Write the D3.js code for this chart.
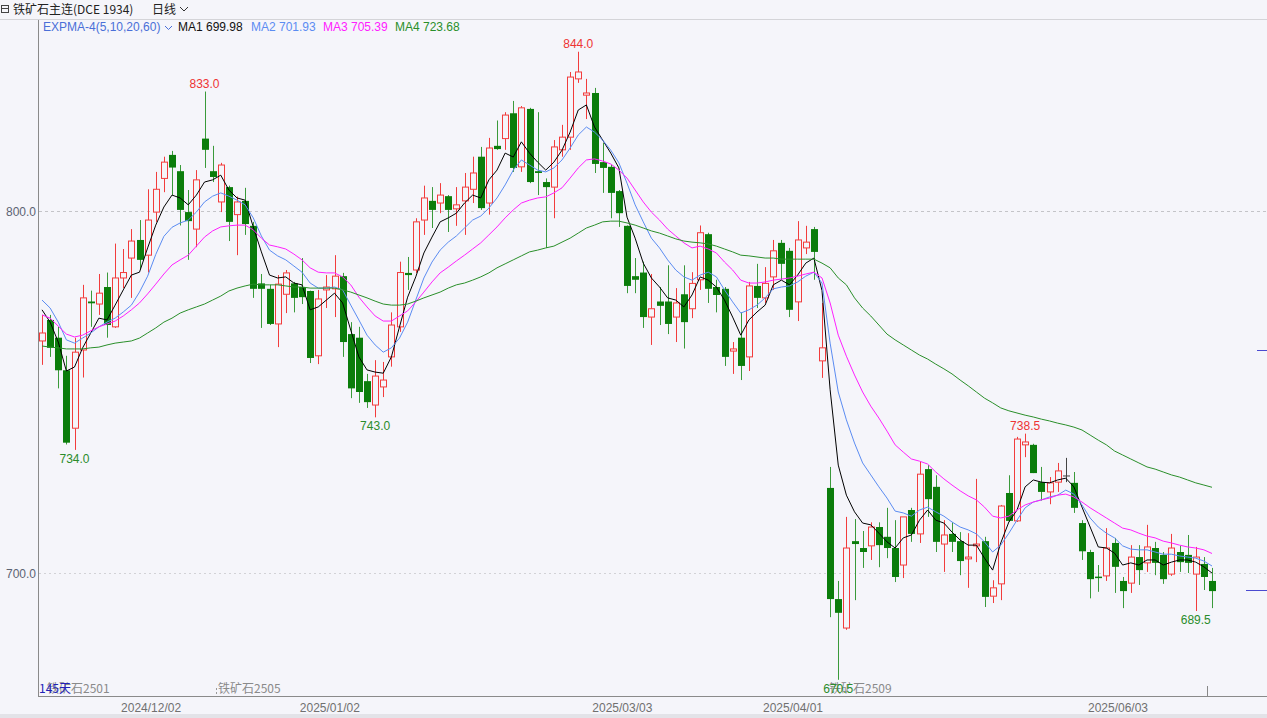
<!DOCTYPE html>
<html><head><meta charset="utf-8">
<script src="https://cdn.jsdelivr.net/npm/d3@7"></script>
<style>body{margin:0;background:#f5f5fa;} svg{display:block}</style>
</head><body><svg id="c" width="1267" height="718"></svg>
<script>
// ---- data ----
const opens = [764.1,769.9,765,756,740,761.6,775,774.3,779,768,
781.5,787,792,787.8,799.7,809,815.5,811,799.7,795,
820,811,802.5,806.6,799,802.8,795.9,780,778.5,768.8,
777,780,779,777.9,760,778.2,778.5,782,766,765,
753,746.4,751.4,759.7,768,782.9,783.7,797.5,802.8,802.2,
804.1,800.6,802.8,806,815,802.2,818,820,827,812.2,
828.2,811,808,806.6,816.9,820.4,836.5,832,832.6,813.5,
812.2,805.5,795.9,782,783,770.7,775,775,770.7,777,
773,781,793.6,779,778.5,761.3,765,759.7,779.3,776,
781.8,791.2,789,774.9,789.8,795,758.6,723.5,692.8,684.8,
708.8,706.9,707.5,712.7,710,706.9,702.2,717.4,710.8,728.7,
723.8,708,710.8,708.8,703.9,707.5,708.8,693.6,697,722.1,
714.4,735.4,735.4,725.1,722.4,725.1,726.8,724.9,713.8,705.8,
699,699.2,708.3,697.8,697.2,704.4,702.8,706.9,705,699.7,
705.8,705,699.7,702.5,697.8];
const highs = [771.3,771.3,768,760,765,779.6,778,782.6,783,791,
789.5,795,797.5,806,810.8,815,816.6,812.7,805.8,811.3,
833,818,813.3,807,804,806.4,797,782.6,779.6,782.3,
783.7,780.4,787,778,778.2,782.3,787.8,782.9,769.3,768,
755,758.8,758.3,772,786,787.3,798,807,806.6,807.7,
804.4,806.6,810.5,815,817.7,820.2,825,827.3,830.4,829,
828.5,827.3,809,819.6,823.8,838.4,844,836.5,834,818.8,
812.7,805.8,796,787,786,782.6,779,785,778.7,785,
783.1,796,794,781,779,763.8,772,780.4,785.4,784.5,
792,792,789.8,797.2,795.9,795.6,774.6,729.3,697.8,715.5,
714.9,711.6,714,714,718,714.6,715.5,718,730.7,729.8,
727,714.6,714,711.3,711,726,710,698,718.8,727,
737.6,738.5,735.7,729.3,726.5,730.4,731.8,727.9,714.6,706.4,
702.2,712.4,709.7,698.9,707.7,707.7,713.3,708.6,705.8,710.8,
707.5,710.5,707.2,704.4,701.4];
const lows = [757.5,759.7,751,735.5,734,754,768,771.3,765,767.7,
778.7,776,784,783,797,805.2,804.4,796,786.5,790,
811.9,808,799.7,791.7,787.8,793.4,776,767.7,768.5,762.4,
771.8,772,774.3,758,757.7,773.2,770.7,759.7,748.3,747,
745.6,743,748.6,757,766.6,778.2,782.9,793.4,795.3,799.4,
794.2,795.9,793.4,802.2,800.3,799,816.9,816.9,810.8,810.8,
807.7,804.4,789.8,798,815,816.9,835.4,825.4,810.5,805,
798,795.6,777.3,777.3,767.7,763,768.5,766,763.8,762,
770.4,778.2,774.6,772,757.2,755,753.3,755.8,773.2,774.6,
778.2,781,770.7,769.6,788.1,781,753.9,687.8,670.5,684.3,
692.5,701.4,703.6,701.6,704.1,697.5,698.6,708.6,708.3,715.5,
705.8,700.3,705.8,699.4,695.9,703,690.6,691.7,692.5,714.1,
714.1,732,727.6,720,719,722.4,725.1,716.6,703.6,693,
694.8,697.8,694.5,690.3,694.5,696.7,700.3,699.4,697,699.2,
700.3,700,689.5,695.3,690.3];
const closes = [766.3,762.2,756,736,761,776,774.5,777.3,768.5,781.5,
783,791.7,786.5,797.5,806,813.5,812,800.3,797.2,808.6,
816.9,809.4,812.7,797,802.5,796.4,778.5,778.5,768.8,779.8,
782.9,776,776.2,759.4,775.7,779,782,763.8,751,750,
747.2,754.4,753.3,768.5,783,782.3,797,803.6,800.3,804.4,
800.3,801.7,806.6,810.5,800.8,817.4,817.1,826.5,811.9,828.5,
808,810.5,806.6,817.7,820.4,837,838.4,832.6,813,811.9,
805,799.4,779.3,781,770.7,773,773.8,768.8,774.6,769.3,
780,794,778.5,776.8,759.7,761.9,757.2,779.3,776,780,
789,785.4,772.7,792,791.4,788.7,762.2,692.8,689,706.9,
708,705.8,712.7,707.7,706.9,698.9,715.5,710.8,727.3,720.4,
708.6,710.5,708.6,703.3,704.4,708,693.4,695.9,718.5,714.4,
737,736.2,727.6,722.4,724.9,728.2,726.8,718,706,698.3,
698.6,706.9,701.7,695,704.4,700.8,707.2,702.8,698.3,706.9,
703,702.8,704.4,698.9,695];
// EXPMA lines
const ma1 = [772.7,769.3,763.8,755.8,756.9,762.2,766.3,770.4,769.9,774.0,
778.2,782.3,783.1,789.8,796.1,801.1,804.4,803.6,801.7,804.4,
808.0,808.6,809.9,805.8,803.6,803.0,795.6,788.7,782.3,781.5,
781.8,780.1,779.6,772.7,773.5,775.4,777.3,774.6,767.1,759.7,
756.1,755.5,755.2,759.7,768.0,776.2,781.8,788.4,792.8,797.0,
798.1,799.4,802.2,804.4,803.6,808.6,811.3,816.0,814.9,819.1,
816.0,813.5,811.3,813.5,816.8,821.8,827.9,829.3,823.2,819.6,
816.0,811.9,798.3,792.5,785.6,781.5,779.0,776.0,775.4,773.5,
776.8,781.8,780.9,779.0,775.4,770.7,765.7,769.9,772.1,774.0,
779.6,780.9,779.6,782.3,785.6,787.0,778.0,750.6,729.8,721.5,
716.9,713.8,713.3,711.0,708.6,706.9,709.7,710.5,714.6,717.4,
714.6,713.8,711.3,709.1,707.7,707.7,704.1,700.8,708.3,714.1,
717.4,723.8,725.7,725.1,724.9,725.7,726.2,723.8,718.2,712.7,
707.2,706.9,705.5,702.2,702.8,702.2,703.6,703.6,702.2,703.0,
703.6,703.6,703.0,701.7,699.98];
const ma2 = [775.4,773.2,769.3,764.4,763.5,764.9,766.3,768.0,769.3,770.4,
772.1,774.0,777.6,782.0,788.0,793.0,795.5,796.7,797.5,799.7,
802.5,804.1,805.0,804.1,803.0,801.7,798.1,793.1,789.2,787.6,
786.5,784.8,783.1,780.1,778.7,778.7,779.0,778.2,774.0,769.9,
765.7,763.0,761.0,762.2,764.9,769.3,775.4,781.5,785.9,789.2,
791.4,793.1,795.3,797.5,798.6,800.8,803.6,807.2,811.3,814.1,
812.7,811.3,810.8,811.9,814.1,817.4,821.0,823.2,821.8,819.6,
816.8,813.3,807.7,801.7,797.0,792.5,789.8,786.5,783.7,781.8,
780.9,782.3,783.1,781.8,778.2,774.9,771.8,772.7,774.0,776.0,
778.5,779.0,779.3,780.4,782.0,783.1,780.1,763.5,750.0,742.3,
735.9,730.4,727.1,723.8,720.7,717.1,716.6,715.7,717.4,718.2,
716.9,715.7,714.1,712.7,711.9,710.8,708.6,705.8,707.7,711.0,
714.6,718.0,719.6,720.2,721.0,721.5,722.9,721.8,718.8,715.2,
712.7,711.0,709.7,707.5,706.6,706.4,706.4,705.8,705.2,705.2,
704.7,704.4,704.1,703.3,701.93];
const ma3 = [771.3,770.4,768.2,766.0,765.2,765.7,766.9,768.0,768.8,769.6,
771.0,772.7,774.6,777.1,779.8,782.6,785.1,786.5,787.8,790.3,
792.8,794.5,795.6,795.9,796.1,796.1,794.8,792.5,790.6,790.1,
789.5,788.1,786.5,784.3,783.1,782.9,782.9,781.8,779.6,776.2,
773.5,771.0,769.6,769.6,771.0,772.4,774.9,777.6,780.4,782.9,
784.5,786.2,787.8,789.5,791.2,793.4,795.6,798.1,800.3,802.2,
803.0,803.6,803.9,805.0,806.4,809.1,811.9,814.1,814.4,813.8,
813.0,811.3,809.1,805.8,802.5,799.7,797.5,795.0,793.1,791.2,
789.8,790.3,789.5,788.4,785.9,783.7,780.9,780.1,780.1,780.4,
780.9,781.2,781.5,782.0,782.6,783.1,781.5,774.6,765.7,759.9,
754.7,750.0,746.1,742.8,739.2,735.4,733.4,731.5,730.9,730.1,
727.9,726.0,724.3,722.7,721.3,720.2,718.2,715.7,715.2,715.7,
717.4,718.8,719.6,720.2,720.7,721.5,721.8,721.0,719.6,718.0,
716.6,715.2,713.8,712.4,711.9,711.0,710.2,709.7,708.8,708.3,
707.7,707.2,706.9,706.4,705.39];
const ma4 = [762.7,762.4,762.2,761.9,761.9,761.9,762.2,762.4,763.0,763.5,
763.8,764.1,764.9,766.3,767.7,769.3,770.4,771.8,772.7,773.5,
774.3,775.4,776.5,777.9,778.7,779.3,779.8,779.6,779.6,779.6,
779.3,779.0,779.0,778.7,778.7,778.7,778.7,778.2,777.6,776.8,
776.0,775.1,774.3,774.0,774.0,774.3,775.1,776.0,776.8,777.6,
778.7,779.6,780.1,780.9,781.8,782.9,784.3,785.4,786.5,787.6,
788.7,789.2,789.8,790.3,791.4,792.5,793.9,795.3,796.1,797.0,
797.2,797.2,796.7,796.1,795.3,794.5,793.9,793.1,792.3,791.7,
791.4,791.2,790.9,790.3,789.5,788.7,787.8,787.6,787.3,787.0,
787.0,786.7,786.7,786.7,786.7,786.7,785.6,784.3,781.5,779.6,
776.0,773.2,771.0,768.5,766.0,764.4,763.0,761.6,760.2,759.1,
757.7,756.4,755.0,753.3,751.7,750.0,748.3,747.0,745.6,744.8,
744.2,743.6,743.1,742.5,742.0,741.4,740.9,740.3,739.5,738.1,
736.7,735.4,733.7,732.6,731.5,730.4,729.3,728.7,727.9,727.1,
726.5,725.7,724.9,724.3,723.68];
const tickIdx = [13, 35, 71, 92, 132];
const tickLabels = ["2024/12/02","2025/01/02","2025/03/03","2025/04/01","2025/06/03"];
const yTicks = [700, 800];
const peakIdx = [20, 66, 121];
const troughIdx = [4, 41, 98, 142];
const maNames = ["MA1","MA2","MA3","MA4"];
const titleText = "铁矿石主连(DCE 1934)";
const periodText = "日线";
const indicatorText = "EXPMA-4(5,10,20,60)";
const dayCountText = "145天";
const contracts = ["铁矿石2501","铁矿石2505","铁矿石2509"];
const sideMarks = [761.6, 695.3];

// ---- drawing ----
const W = 1267, H = 718;
const bg = "#f5f5fa";
const numFont = "'Liberation Sans', Arial, sans-serif";
const cjkFont = "'Noto Sans CJK SC', 'Liberation Sans', sans-serif";
const svg = d3.select("#c");
svg.append("rect").attr("width", W).attr("height", H).attr("fill", bg);
svg.append("rect").attr("x", 0).attr("y", 714).attr("width", W).attr("height", 4).attr("fill", "#e3e3e8");

const x = d3.scaleLinear().domain([0, opens.length - 1]).range([42, 1212]);
const y = d3.scaleLinear().domain([700, 800]).range([573, 211]);
const px = i => Math.round(x(i)) + 0.5;

// grid
yTicks.forEach((t, k) => {
  svg.append("line").attr("x1", 39).attr("x2", W).attr("y1", Math.round(y(t)) + 0.5).attr("y2", Math.round(y(t)) + 0.5)
    .attr("stroke", k === 1 ? "#c4c4c8" : "#d2d2d6").attr("stroke-dasharray", k === 1 ? "3,3" : "2,3");
});

// title bar
svg.append("rect").attr("x", 1.5).attr("y", 5.5).attr("width", 7).attr("height", 7).attr("fill", "none").attr("stroke", "#444");
svg.append("line").attr("x1", 1.5).attr("x2", 8.5).attr("y1", 8.5).attr("y2", 8.5).attr("stroke", "#444");
svg.append("text").attr("x", 13).attr("y", 14).attr("font-family", cjkFont).attr("font-size", 12).attr("fill", "#222").text(titleText);
svg.append("text").attr("x", 152).attr("y", 14).attr("font-family", cjkFont).attr("font-size", 12).attr("fill", "#222").text(periodText);
svg.append("path").attr("d", "M180,7 L184,11 L188,7").attr("fill", "none").attr("stroke", "#333");
svg.append("line").attr("x1", 0).attr("x2", W).attr("y1", 19.5).attr("y2", 19.5).attr("stroke", "#d4d4d8");

// legend
const lastVals = [ma1, ma2, ma3, ma4].map(a => a[a.length - 1]);
const maColors = ["#000000", "#5b8cf2", "#ff20ff", "#2a8f2a"];
svg.append("text").attr("x", 43).attr("y", 31).attr("font-family", numFont).attr("font-size", 12).attr("fill", "#4a6fd8").text(indicatorText);
svg.append("path").attr("d", "M165,26 L168.5,29.5 L172,26").attr("fill", "none").attr("stroke", "#4a6fd8");
const legX = [178, 251, 323, 395];
maNames.forEach((n, k) => {
  svg.append("text").attr("x", legX[k]).attr("y", 31).attr("font-family", numFont).attr("font-size", 12)
    .attr("fill", k === 0 ? "#111" : maColors[k]).text(n + " " + lastVals[k].toFixed(2));
});

// axes
const yAxis = d3.axisLeft(y).tickValues(yTicks).tickFormat(d3.format(".1f")).tickSize(0).tickPadding(2);
const ya = svg.append("g").attr("transform", "translate(38,0)").call(yAxis);
ya.select(".domain").remove();
ya.selectAll("text").attr("font-family", numFont).attr("font-size", 12).attr("fill", "#5c6373").attr("dy", "0.35em");

const xAxis = d3.axisBottom(x).tickValues(tickIdx).tickFormat((d, k) => tickLabels[k]).tickSize(0).tickPadding(7);
const xa = svg.append("g").attr("transform", "translate(3,696)").call(xAxis);
xa.select(".domain").remove();
xa.selectAll("text").attr("font-family", numFont).attr("font-size", 12).attr("fill", "#707070");

svg.append("line").attr("x1", 38.5).attr("x2", 38.5).attr("y1", 20).attr("y2", 696).attr("stroke", "#8a8a8a");
svg.append("line").attr("x1", 38).attr("x2", W).attr("y1", 696.5).attr("y2", 696.5).attr("stroke", "#8a8a8a");

// candles
const up = "#f23c3c", dnFill = "#0b7d0b", dnWick = "#3a9a3a";
const g = svg.append("g");
opens.forEach((o, i) => {
  const c = closes[i], h = highs[i], l = lows[i];
  const cx = px(i);
  const yo = y(o), yc = y(c), yh = y(h), yl = y(l);
  if (c > o) {
    g.append("line").attr("x1", cx).attr("x2", cx).attr("y1", yh).attr("y2", yc).attr("stroke", up);
    g.append("line").attr("x1", cx).attr("x2", cx).attr("y1", yo).attr("y2", yl).attr("stroke", up);
    g.append("rect").attr("x", cx - 3).attr("y", yc).attr("width", 6).attr("height", Math.max(yo - yc, 1))
      .attr("fill", bg).attr("stroke", up);
  } else if (c < o) {
    g.append("line").attr("x1", cx).attr("x2", cx).attr("y1", yh).attr("y2", yl).attr("stroke", dnWick);
    g.append("rect").attr("x", cx - 3.5).attr("y", yo).attr("width", 7).attr("height", Math.max(yc - yo, 1.5))
      .attr("fill", dnFill);
  } else {
    g.append("line").attr("x1", cx).attr("x2", cx).attr("y1", yh).attr("y2", yl).attr("stroke", "#444");
    g.append("line").attr("x1", cx - 3.5).attr("x2", cx + 3.5).attr("y1", yo).attr("y2", yo).attr("stroke", "#444");
  }
});

// EXPMA lines
[ma1, ma2, ma3, ma4].forEach((arr, k) => {
  const line = d3.line().x((d, i) => x(i)).y(d => y(d));
  svg.append("path").datum(arr).attr("d", line).attr("fill", "none").attr("stroke", maColors[k]).attr("stroke-width", 1);
});

// bottom annotations
svg.append("text").attr("x", 47).attr("y", 693).attr("font-family", cjkFont).attr("font-size", 12).attr("fill", "#8a8a8a").text(contracts[0]);
svg.append("text").attr("x", 218).attr("y", 693).attr("font-family", cjkFont).attr("font-size", 12).attr("fill", "#8a8a8a").text(contracts[1]);
svg.append("line").attr("x1", 216.5).attr("x2", 216.5).attr("y1", 688).attr("y2", 695).attr("stroke", "#999").attr("stroke-dasharray", "2,2");
svg.append("text").attr("x", 829).attr("y", 693).attr("font-family", cjkFont).attr("font-size", 12).attr("fill", "#8a8a8a").text(contracts[2]);
svg.append("text").attr("x", 39).attr("y", 693).attr("font-family", cjkFont).attr("font-size", 12).attr("fill", "#2323b8").text(dayCountText);
svg.append("line").attr("x1", 1207.5).attr("x2", 1207.5).attr("y1", 686).attr("y2", 696).attr("stroke", "#888");

// extreme labels
peakIdx.forEach(i => {
  svg.append("text").attr("x", x(i)).attr("y", y(highs[i]) - 4).attr("text-anchor", "middle")
    .attr("font-family", numFont).attr("font-size", 12).attr("fill", "#ee3333").text(highs[i].toFixed(1));
});
troughIdx.forEach(i => {
  svg.append("text").attr("x", x(i)).attr("y", y(lows[i]) + 13).attr("text-anchor", "middle")
    .attr("font-family", numFont).attr("font-size", 12).attr("fill", "#2a8c2a").text(lows[i].toFixed(1));
});

// right side marks
sideMarks.forEach((v, k) => {
  svg.append("line").attr("x1", k === 0 ? 1257 : 1246).attr("x2", W).attr("y1", Math.round(y(v)) + 0.5).attr("y2", Math.round(y(v)) + 0.5)
    .attr("stroke", "#4a4ad0");
});
</script></body></html>
